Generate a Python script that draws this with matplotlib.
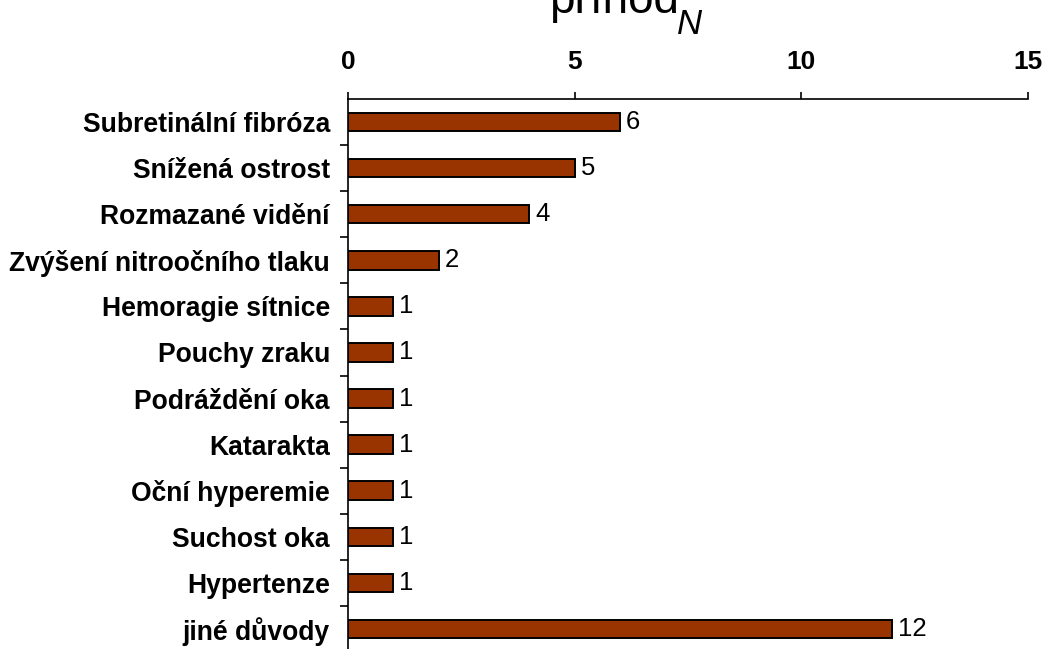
import numpy as np
import matplotlib.pyplot as plt

categories = ['Subretinální fibróza', 'Snížená ostrost', 'Rozmazané vidění',
              'Zvýšení nitroočního tlaku', 'Hemoragie sítnice', 'Pouchy zraku',
              'Podráždění oka', 'Katarakta', 'Oční hyperemie', 'Suchost oka',
              'Hypertenze', 'jiné důvody']
counts = [6, 5, 4, 2, 1, 1, 1, 1, 1, 1, 1, 12]
xticks = [0, 5, 10, 15]

plt.rcParams['font.family'] = ['Liberation Sans', 'DejaVu Sans']

W, H = 1046, 649
fig = plt.figure(figsize=(W / 100, H / 100), dpi=100)
ax = fig.add_axes([348 / W, 1 - 652 / H, 680 / W, 553 / H])

pos = np.arange(len(categories))
ax.barh(pos, counts, height=0.4, color='#993300', edgecolor='black', linewidth=1.4)

for y, v in zip(pos, counts):
    ax.text(v + 0.13, y, str(v), va='center', ha='left', fontsize=18.5)

ax.set_xlim(0, 15)
ax.set_ylim(len(categories) - 0.5, -0.5)

# x axis on top
ax.xaxis.tick_top()
ax.set_xticks(xticks)
ax.set_xticklabels([str(t) for t in xticks], fontweight='bold', fontsize=19)
ax.tick_params(axis='x', direction='out', length=5, width=1.2, pad=13)

# category labels, separator ticks between bars
ax.set_yticks(pos)
ax.set_yticklabels(categories, fontweight='bold', fontsize=19.1)
ax.tick_params(axis='y', which='major', length=0, pad=13)
ax.set_yticks(np.arange(len(categories)) + 0.5, minor=True)
ax.tick_params(axis='y', which='minor', direction='out', length=6, width=1.2)

for s in ['right', 'bottom']:
    ax.spines[s].set_visible(False)
for s in ['left', 'top']:
    ax.spines[s].set_linewidth(1.2)

fig.text(614 / W, 1 - 13 / H, 'příhod', ha='center', va='baseline', fontsize=33)
fig.text(690 / W, 1 - 24 / H, 'N', ha='center', va='center', fontsize=25, style='italic')

fig.savefig('out.png', dpi=100)
